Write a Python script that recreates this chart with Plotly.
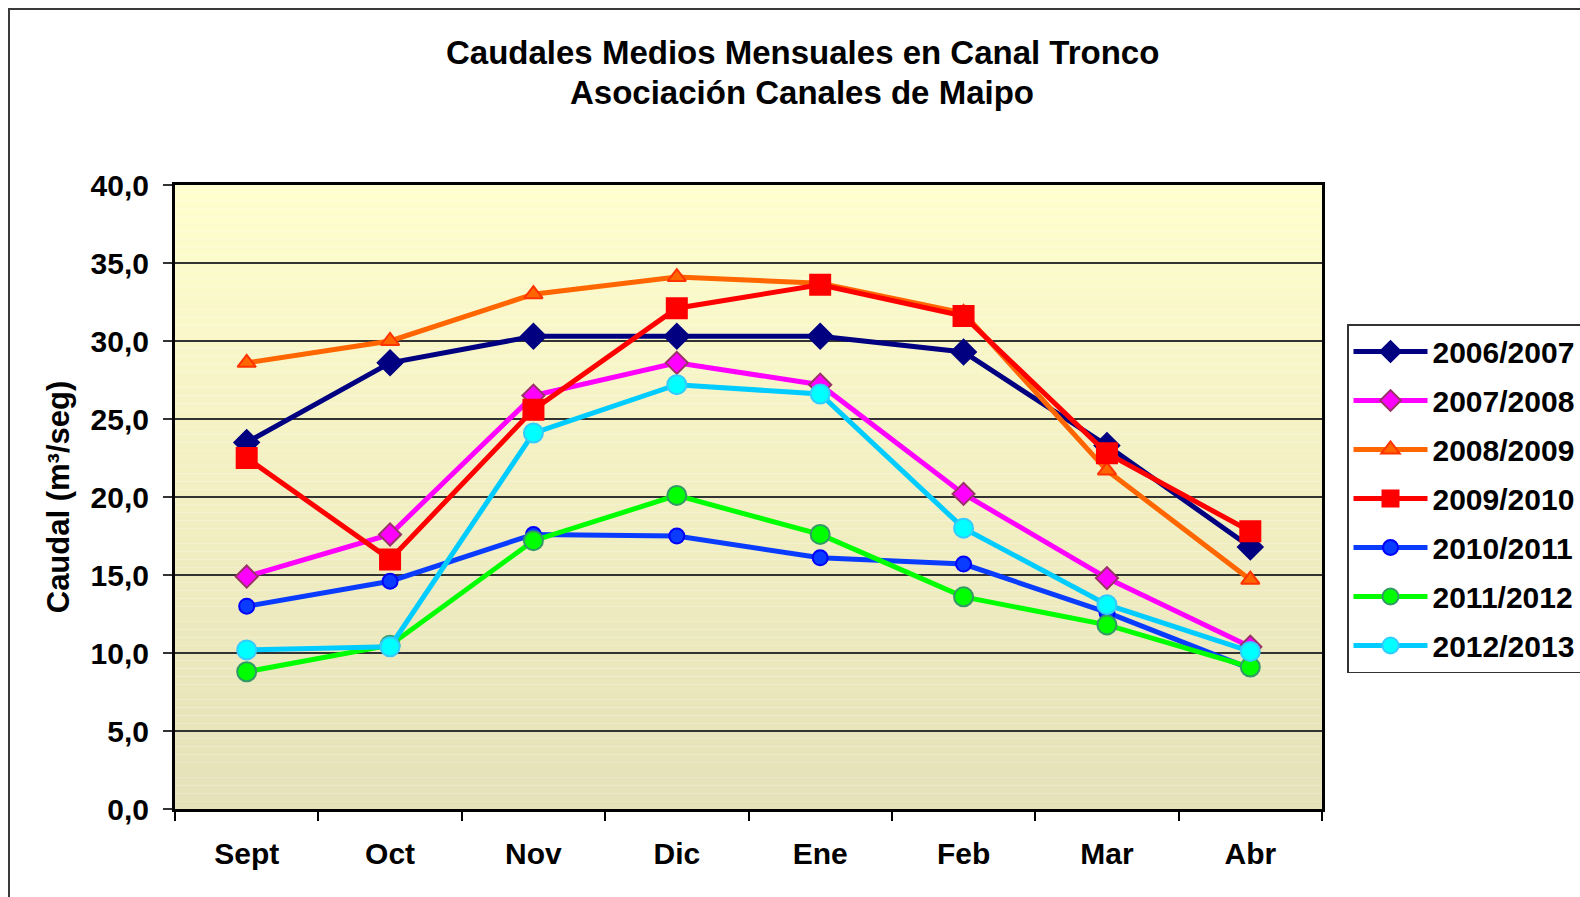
import plotly.graph_objects as go

months = ["Sept", "Oct", "Nov", "Dic", "Ene", "Feb", "Mar", "Abr"]
s2006_2007 = [23.5, 28.6, 30.3, 30.3, 30.3, 29.3, 23.3, 16.8]
s2007_2008 = [14.9, 17.6, 26.5, 28.6, 27.2, 20.2, 14.8, 10.4]
s2008_2009 = [28.6, 30.0, 33.0, 34.1, 33.7, 31.8, 21.7, 14.7]
s2009_2010 = [22.5, 16.0, 25.6, 32.1, 33.6, 31.6, 22.8, 17.8]
s2010_2011 = [13.0, 14.6, 17.6, 17.5, 16.1, 15.7, 12.6, 9.0]
s2011_2012 = [8.8, 10.5, 17.2, 20.1, 17.6, 13.6, 11.8, 9.1]
s2012_2013 = [10.2, 10.4, 24.1, 27.2, 26.6, 18.0, 13.1, 10.1]
yticks = [0, 5, 10, 15, 20, 25, 30, 35, 40]
ytick_text = ["0,0", "5,0", "10,0", "15,0", "20,0", "25,0", "30,0", "35,0", "40,0"]
title_lines = ["Caudales Medios Mensuales en Canal Tronco", "Asociación Canales de Maipo"]

series = [
    ("2006/2007", s2006_2007, "#000080", "diamond", 19, "#000080", "#000080"),
    ("2007/2008", s2007_2008, "#FF00FF", "diamond", 17, "#FF00FF", "#993366"),
    ("2008/2009", s2008_2009, "#FF6600", "triangle-up", 16, "#FF6600", "#FF3300"),
    ("2009/2010", s2009_2010, "#FF0000", "square", 20, "#FF0000", "#FF0000"),
    ("2010/2011", s2010_2011, "#0A3CFF", "circle", 15, "#0A3CFF", "#0000FF"),
    ("2011/2012", s2011_2012, "#00FF00", "circle", 19, "#00FF00", "#339966"),
    ("2012/2013", s2012_2013, "#00CCFF", "circle", 19, "#00FFFF", "#33CCFF"),
]

FONT = "Liberation Sans, Arial, sans-serif"
fig = go.Figure()
for name, vals, lc, sym, sz, mc, mlc in series:
    fig.add_trace(go.Scatter(
        x=months, y=vals, name=name, mode="lines+markers", legendgroup=name,
        line=dict(color=lc, width=5),
        marker=dict(symbol=sym, size=sz, color=mc, line=dict(color=mlc, width=2)),
    ))

# gradient plot background (style only)
shapes = []
N = 80
top = (255, 254, 206)
bot = (229, 225, 184)
for i in range(N):
    t = i / (N - 1)
    c = tuple(int(round(bot[k] + (top[k] - bot[k]) * t)) for k in range(3))
    shapes.append(dict(type="rect", xref="paper", yref="paper",
                       x0=0, x1=1, y0=i / N, y1=(i + 1) / N,
                       fillcolor="rgb(%d,%d,%d)" % c, line=dict(width=0), layer="below"))
# outer chart frame
shapes.append(dict(type="rect", xref="paper", yref="paper",
                   x0=(9 - 175) / 1147, x1=1.5, y0=-0.5, y1=(809 - 9) / 624,
                   line=dict(color="#3a3a3a", width=2), fillcolor="rgba(0,0,0,0)", layer="below"))

annotations = []
for txt, ypix in zip(title_lines, [52, 92]):
    annotations.append(dict(text="<b>%s</b>" % txt, xref="paper", yref="paper",
                            x=(802 - 175) / 1147, y=(809 - ypix) / 624,
                            xanchor="center", yanchor="middle", showarrow=False,
                            font=dict(size=33, family=FONT, color="black")))

fig.update_layout(
    width=1580, height=897,
    margin=dict(l=175, r=258, t=185, b=88, autoexpand=False),
    paper_bgcolor="white", plot_bgcolor="rgba(0,0,0,0)",
    font=dict(family=FONT, color="black"),
    shapes=shapes,
    annotations=annotations,
    showlegend=True,
    legend=dict(x=(1347 - 175) / 1147, xanchor="left", y=(809 - 324) / 624, yanchor="top",
                bgcolor="white", bordercolor="#333333", borderwidth=1.5,
                font=dict(size=30, family=FONT, color="black", weight="bold"),
                tracegroupgap=7, itemwidth=74, traceorder="grouped"),
)
fig.update_xaxes(
    showgrid=False, showline=True, linecolor="black", linewidth=3, mirror=True,
    ticks="outside", tickson="boundaries", ticklen=9, tickcolor="black", tickwidth=1.5,
    tickfont=dict(size=30, family=FONT, color="black", weight="bold"),
    ticklabelstandoff=16,
    range=[-0.5, 7.5],
)
fig.update_yaxes(
    range=[0, 40], tickvals=yticks, ticktext=ytick_text,
    showgrid=True, gridcolor="#333333", gridwidth=1.5,
    showline=True, linecolor="black", linewidth=3, mirror=True,
    ticks="outside", ticklen=9, tickcolor="#333333", tickwidth=1.5,
    tickfont=dict(size=30, family=FONT, color="black", weight="bold"),
    ticklabelstandoff=8,
    title=dict(text="<b>Caudal (m³/seg)</b>", font=dict(size=31, family=FONT, color="black"), standoff=12),
    zeroline=False,
)
fig.write_html("out.html", config={"displayModeBar": False},
               post_script="document.body.style.margin='0';")
